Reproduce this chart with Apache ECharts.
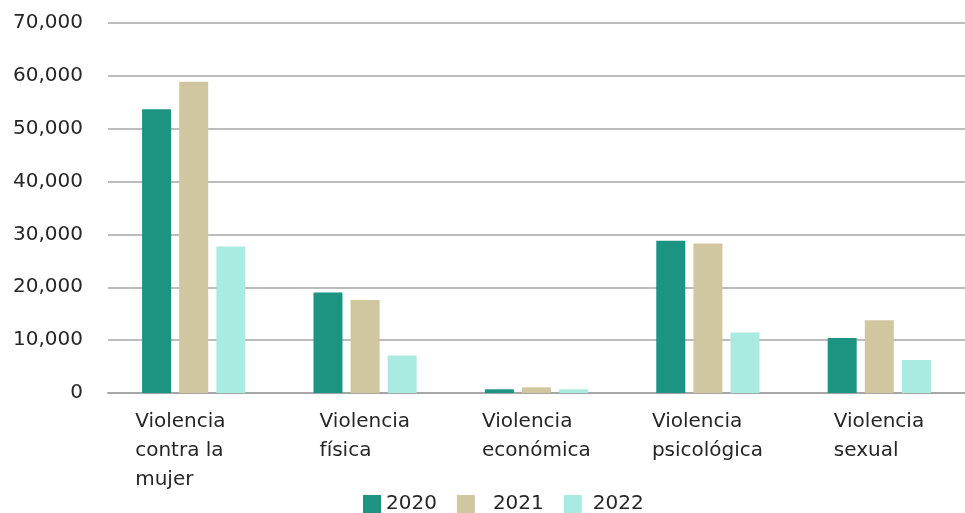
<!DOCTYPE html>
<html>
<head>
<meta charset="utf-8">
<script src="https://cdn.jsdelivr.net/npm/echarts@6/dist/echarts.min.js"></script>
<style>html,body{margin:0;padding:0;background:#fff;}#c{width:965px;height:513px;}</style>
</head>
<body>
<div id="c"></div>
<script>
const categories = ["Violencia\ncontra la\nmujer", "Violencia\nfísica", "Violencia\neconómica", "Violencia\npsicológica", "Violencia\nsexual"];
const years = ["2020", "2021", "2022"];
const values2020 = [53700, 19000, 700, 28800, 10400];
const values2021 = [58900, 17600, 1070, 28300, 13750];
const values2022 = [27700, 7100, 700, 11450, 6250];
const yTicks = { min: 0, max: 70000, interval: 10000 };

const colors = ["#1c9481", "#d0c69f", "#a9ebe0"];
const legendTextPadLeft = [0, 13, 6];
const font = "DejaVu Sans";
const fontSize = 20;
const textColor = "#262626";

// measure each category label block so that lines are left-aligned inside a centered block
const ctx = document.createElement('canvas').getContext('2d');
ctx.font = fontSize + 'px "' + font + '"';
const rich = {};
categories.forEach((c, i) => {
  const w = Math.max(...c.split('\n').map(l => ctx.measureText(l).width));
  rich['c' + i] = { width: Math.ceil(w) + (i === 0 ? 26 : 0), align: 'left', fontFamily: font, fontSize: fontSize, lineHeight: 29, color: textColor };
});

const chart = echarts.init(document.getElementById('c'));
const seriesData = [values2020, values2021, values2022];
chart.setOption({
  animation: false,
  textStyle: { fontFamily: font },
  grid: { left: 108, right: 0, top: 23, bottom: 120 },
  legend: {
    data: years.map((y, i) => ({
      name: y,
      textStyle: { padding: [0, 0, 0, legendTextPadLeft[i]] }
    })),
    left: 363,
    top: 494,
    padding: 0,
    itemWidth: 18,
    itemHeight: 18,
    itemGap: 20,
    icon: 'rect',
    textStyle: { fontFamily: font, fontSize: fontSize, color: textColor }
  },
  xAxis: {
    type: 'category',
    data: categories,
    axisLine: { lineStyle: { color: '#a6a6a6', width: 2 } },
    axisTick: { show: false },
    axisLabel: {
      margin: 14,
      formatter: function (v, idx) {
        return v.split('\n').map(l => '{c' + idx + '|' + l + '}').join('\n');
      },
      rich: rich
    }
  },
  yAxis: {
    type: 'value',
    min: yTicks.min,
    max: yTicks.max,
    interval: yTicks.interval,
    axisLine: { show: false },
    axisTick: { show: false },
    splitLine: { lineStyle: { color: '#a6a6a6', width: 1.5 } },
    axisLabel: {
      margin: 25,
      fontFamily: font,
      fontSize: fontSize,
      color: textColor,
      formatter: v => v.toLocaleString('en-US')
    }
  },
  series: years.map((y, i) => ({
    name: y,
    type: 'bar',
    data: seriesData[i],
    barWidth: 29,
    barGap: '28%',
    itemStyle: { color: colors[i] }
  }))
});
</script>
</body>
</html>
